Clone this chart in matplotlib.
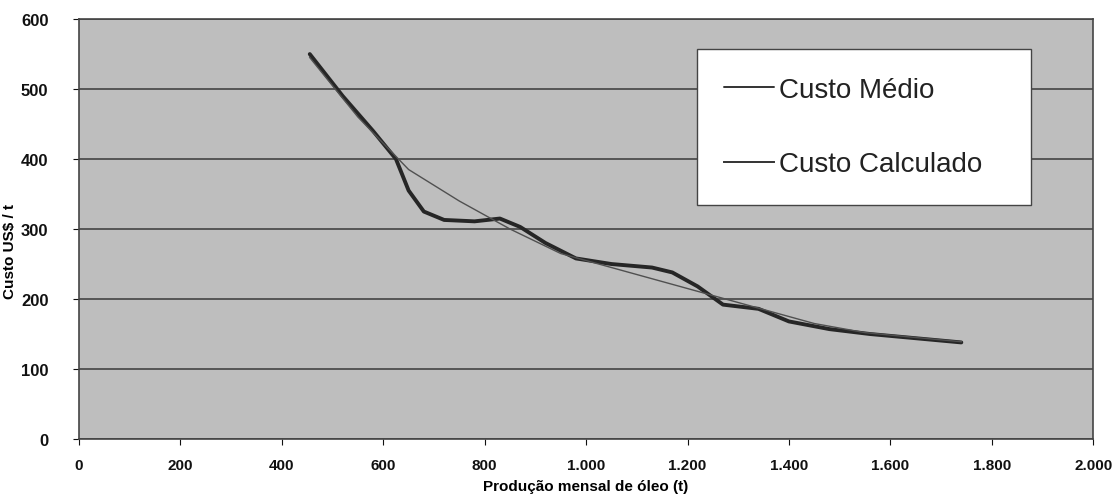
import matplotlib
matplotlib.use('Agg')
import matplotlib.pyplot as plt
from matplotlib.ticker import FuncFormatter

# Custo Médio (smooth dark line)
medio_x = [455, 520, 580, 625, 650, 680, 720, 780, 830, 870, 920, 980, 1050,
           1130, 1170, 1220, 1270, 1340, 1400, 1480, 1560, 1650, 1740]
medio_y = [550, 490, 440, 400, 355, 325, 313, 311, 315, 303, 280, 258, 250,
           245, 238, 218, 192, 186, 168, 157, 150, 144, 138]

# Custo Calculado (thin line)
calc_x = [455, 550, 650, 750, 850, 950, 1050, 1150, 1250, 1350, 1450, 1550, 1650, 1740]
calc_y = [545, 460, 385, 340, 300, 265, 245, 225, 205, 185, 165, 152, 145, 139]

x_ticks = list(range(0, 2001, 200))
y_ticks = list(range(0, 601, 100))

plt.rcParams['font.family'] = ['Liberation Sans', 'DejaVu Sans']


def thousands(v, pos):
    return '{:,.0f}'.format(v).replace(',', '.')


fig = plt.figure(figsize=(11.15, 5.02), dpi=100)
ax = fig.add_axes([0.0709, 0.1235, 0.9095, 0.8365])
ax.set_facecolor('#bebebe')

ax.plot(medio_x, medio_y, color='#262626', lw=2.8, label='Custo Médio',
        solid_capstyle='round', solid_joinstyle='round')
ax.plot(calc_x, calc_y, color='#505050', lw=1.0, label='Custo Calculado')

ax.set_xlim(0, 2000)
ax.set_ylim(0, 600)
ax.set_xticks(x_ticks)
ax.set_yticks(y_ticks)
ax.xaxis.set_major_formatter(FuncFormatter(thousands))
ax.yaxis.grid(True, color='#3a3a3a', lw=1.1)
ax.set_axisbelow(True)

for s in ax.spines.values():
    s.set_color('#444444')
    s.set_linewidth(1.2)

ax.tick_params(axis='both', colors='#111111', length=4, width=0.8)
ax.tick_params(axis='x', labelsize=11, pad=10)
ax.tick_params(axis='y', labelsize=12, pad=18)
for lbl in ax.get_xticklabels() + ax.get_yticklabels():
    lbl.set_fontweight('bold')

ax.set_xlabel('Produção mensal de óleo (t)', fontsize=11, fontweight='bold', labelpad=5)
ax.set_ylabel('Custo US$ / t', fontsize=11, fontweight='bold')
ax.yaxis.set_label_coords(-0.061, 0.45)

leg = ax.legend(loc='upper left', bbox_to_anchor=(0.609, 0.929, 0.33, 0.0),
                mode='expand', fontsize=20,
                frameon=True, fancybox=False, edgecolor='#444444', facecolor='white',
                framealpha=1.0, handlelength=1.8, handletextpad=0.15,
                labelspacing=1.75, borderpad=1.0, borderaxespad=0)
leg.get_frame().set_linewidth(1.0)
for line in leg.get_lines():
    line.set_linewidth(1.4)
    line.set_color('#333333')
for t in leg.get_texts():
    t.set_color('#222222')

fig.savefig('out.png', dpi=100, facecolor='white')
